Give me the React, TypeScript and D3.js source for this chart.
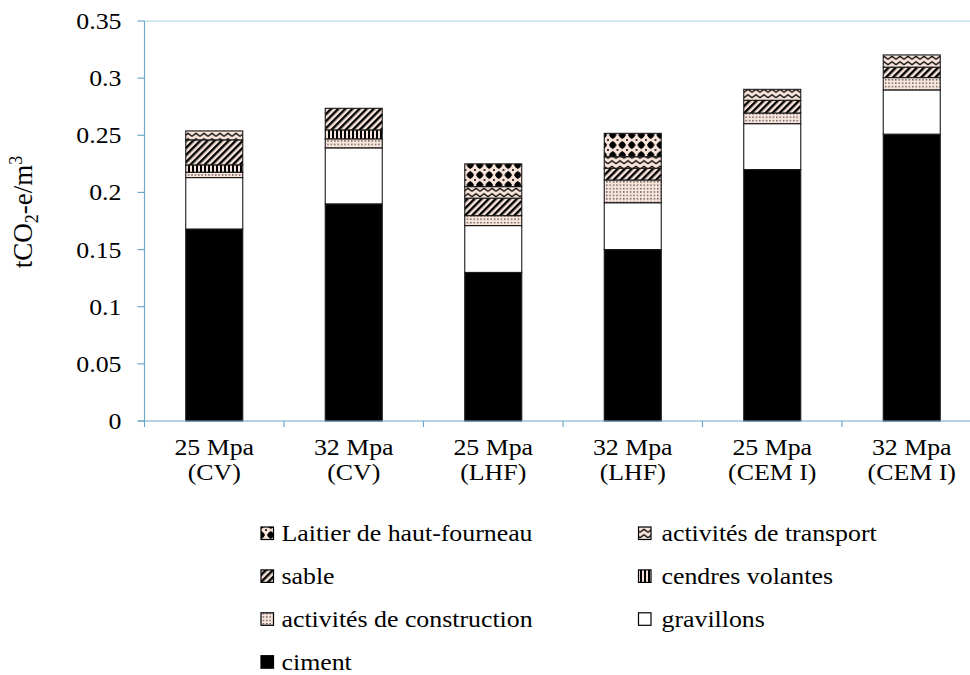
import React from "react";
import * as d3 from "d3";

const categories = ["25 Mpa|(CV)", "32 Mpa|(CV)", "25 Mpa|(LHF)", "32 Mpa|(LHF)", "25 Mpa|(CEM I)", "32 Mpa|(CEM I)"];
const ciment = [0.168, 0.19, 0.13, 0.15, 0.22, 0.251];
const gravillons = [0.045, 0.049, 0.041, 0.041, 0.0402, 0.0387];
const construction = [0.0047, 0.0079, 0.0087, 0.0199, 0.0093, 0.0108];
const cendres = [0.0064, 0.0078, 0, 0, 0, 0];
const sable = [0.0219, 0.0189, 0.0153, 0.0102, 0.0111, 0.0091];
const transport = [0.0078, 0, 0.0101, 0.0102, 0.0096, 0.0107];
const laitier = [0, 0, 0.0199, 0.0204, 0, 0];
const yTicks = [0, 0.05, 0.1, 0.15, 0.2, 0.25, 0.3, 0.35];
const yTickLabels = ["0", "0.05", "0.1", "0.15", "0.2", "0.25", "0.3", "0.35"];

const seriesKeys = ["ciment", "gravillons", "construction", "cendres", "sable", "transport", "laitier"];
const seriesValues: Record<string, number[]> = { ciment, gravillons, construction, cendres, sable, transport, laitier };
const seriesLabels: Record<string, string> = {
  ciment: "ciment",
  gravillons: "gravillons",
  construction: "activités de construction",
  cendres: "cendres volantes",
  sable: "sable",
  transport: "activités de transport",
  laitier: "Laitier de haut-fourneau",
};
const legendOrder = [
  ["laitier", "transport"],
  ["sable", "cendres"],
  ["construction", "gravillons"],
  ["ciment"],
];

const FONT = "'Liberation Serif', 'Times New Roman', serif";
const SX = 1.1;
const FS = 23.5;
const AXIS = "#6ea8c8";
const PBG = "#f8e4da";

const fills: Record<string, string> = {
  ciment: "#000",
  gravillons: "#fff",
  construction: "url(#pConstruction)",
  cendres: "url(#pCendres)",
  sable: "url(#pSable)",
  transport: "url(#pTransport)",
  laitier: "url(#pLaitier)",
};

function T({ x, y, anchor = "start", size = FS, children }: any) {
  return (
    <text
      transform={`translate(${x},${y}) scale(${SX},1)`}
      textAnchor={anchor}
      fontFamily={FONT}
      fontSize={size}
      fill="#000"
    >
      {children}
    </text>
  );
}

export default function App() {
  const W = 970, H = 675;
  const x0 = 144.5, y0 = 421, yTop = 21;
  const step = 139.5;
  const x = d3.scaleBand().domain(categories).range([x0, x0 + step * categories.length]).padding(0);
  const y = d3.scaleLinear().domain([0, 0.35]).range([y0, yTop]);
  const barW = 57;

  const rows = categories.map((c, i) => {
    const r: any = { cat: c };
    seriesKeys.forEach((k) => (r[k] = seriesValues[k][i]));
    return r;
  });
  const stacked = d3.stack<any>().keys(seriesKeys)(rows);

  return (
    <svg width={W} height={H} style={{ position: "absolute", left: 0, top: 0, background: "#fff" }}>
      <defs>
        <pattern id="pConstruction" width="3.4" height="3.4" patternUnits="userSpaceOnUse">
          <rect width="3.4" height="3.4" fill={PBG} />
          <rect x="1" y="1" width="1.2" height="1.2" fill="#222" />
        </pattern>
        <pattern id="pCendres" width="4" height="4" patternUnits="userSpaceOnUse">
          <rect width="4" height="4" fill={PBG} />
          <rect x="0" y="0" width="2" height="4" fill="#000" />
        </pattern>
        <pattern id="pSable" width="5" height="5" patternUnits="userSpaceOnUse" patternTransform="rotate(45)">
          <rect width="5" height="5" fill={PBG} />
          <rect x="0" y="0" width="2.4" height="5" fill="#000" />
        </pattern>
        <pattern id="pTransport" width="8" height="5.5" patternUnits="userSpaceOnUse">
          <rect width="8" height="5.5" fill={PBG} />
          <polyline points="0,4.3 4,1.3 8,4.3" fill="none" stroke="#000" strokeWidth="1.2" />
        </pattern>
        <pattern id="pLaitier" width="9.5" height="10" patternUnits="userSpaceOnUse">
          <rect width="9.5" height="10" fill={PBG} />
          <path d="M4.75,0.8 L8.6,5 L4.75,9.2 L0.9,5 Z" fill="#000" />
          <circle cx="4.75" cy="5" r="3.1" fill="#000" />
          <circle cx="0" cy="0" r="1" fill="#000" />
          <circle cx="9.5" cy="0" r="1" fill="#000" />
          <circle cx="0" cy="10" r="1" fill="#000" />
          <circle cx="9.5" cy="10" r="1" fill="#000" />
        </pattern>
      </defs>

      {/* plot top border */}
      <line x1={x0} x2={W} y1={yTop} y2={yTop} stroke="#a9cde0" strokeWidth={1} />

      {/* bars */}
      {stacked.map((s) => (
        <g key={s.key}>
          {s.map((d, i) => {
            if (d[1] - d[0] <= 0) return null;
            const cx = (x(categories[i]) as number) + x.bandwidth() / 2;
            return (
              <rect
                key={i}
                x={cx - barW / 2}
                y={y(d[1])}
                width={barW}
                height={y(d[0]) - y(d[1])}
                fill={fills[s.key]}
                stroke="#1a1a1a"
                strokeWidth={1.1}
              />
            );
          })}
        </g>
      ))}

      {/* y axis */}
      <line x1={x0} x2={x0} y1={yTop} y2={y0} stroke={AXIS} strokeWidth={1.2} />
      {yTicks.map((t, i) => (
        <g key={t}>
          <line x1={x0 - 7} x2={x0} y1={y(t)} y2={y(t)} stroke={AXIS} strokeWidth={1.2} />
          <T x={121.5} y={y(t) + 8} anchor="end">{yTickLabels[i]}</T>
        </g>
      ))}

      {/* x axis */}
      <line x1={x0 - 7} x2={W} y1={y0} y2={y0} stroke={AXIS} strokeWidth={1.2} />
      {categories.map((c) => (
        <line key={"t" + c} x1={x(c) as number} x2={x(c) as number} y1={y0} y2={y0 + 6} stroke={AXIS} strokeWidth={1.2} />
      ))}
      {categories.map((c) => {
        const cx = (x(c) as number) + x.bandwidth() / 2;
        const [l1, l2] = c.split("|");
        return (
          <g key={"l" + c}>
            <T x={cx} y={455} anchor="middle">{l1}</T>
            <T x={cx} y={480} anchor="middle">{l2}</T>
          </g>
        );
      })}

      {/* y title */}
      <text
        transform={`translate(32,212) rotate(-90)`}
        textAnchor="middle"
        fontFamily={FONT}
        fontSize={27}
        fill="#000"
      >
        tCO<tspan fontSize={18} dy={6}>2</tspan>
        <tspan dy={-6}>-e/m</tspan>
        <tspan fontSize={18} dy={-10}>3</tspan>
      </text>

      {/* legend */}
      {legendOrder.map((row, ri) =>
        row.map((k, ci) => {
          const cy = 533 + ri * 42.9;
          const sx = ci === 0 ? 261 : 638.5;
          const tx = ci === 0 ? 281.5 : 661.5;
          return (
            <g key={k}>
              <rect x={sx} y={cy - 6} width={12.5} height={12.5} fill={fills[k]} stroke="#000" strokeWidth={1.2} />
              <T x={tx} y={cy + 8}>{seriesLabels[k]}</T>
            </g>
          );
        })
      )}
    </svg>
  );
}
